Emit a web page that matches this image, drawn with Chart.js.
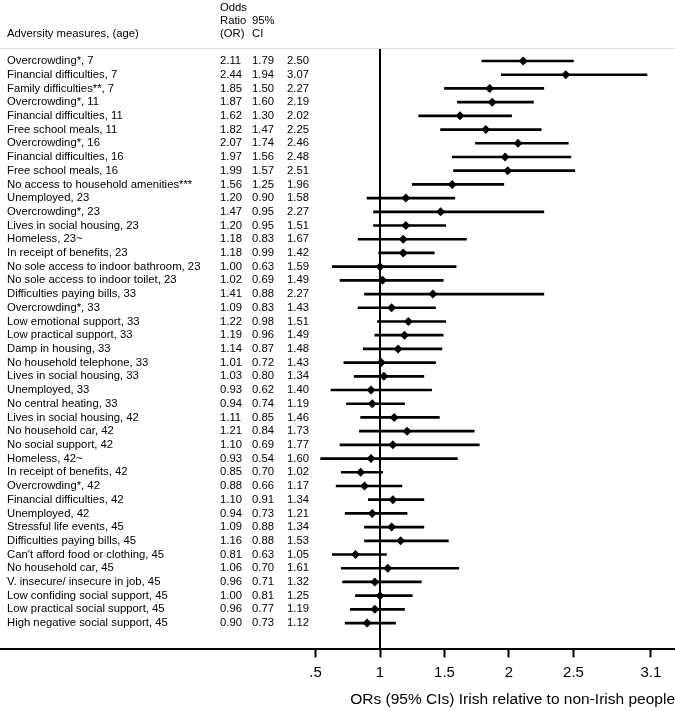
<!DOCTYPE html>
<html>
<head>
<meta charset="utf-8">
<script src="https://cdn.jsdelivr.net/npm/chart.js@4/dist/chart.umd.min.js"></script>
<style>
    body { margin: 0; background: #fff; }
    canvas { display: block; }
</style>
</head>
<body>
<canvas id="forest" width="675" height="711"></canvas>
<script>
// Rows of the forest plot, top to bottom
const labels = [
    "Overcrowding*, 7", "Financial difficulties, 7", "Family difficulties**, 7",
    "Overcrowding*, 11", "Financial difficulties, 11", "Free school meals, 11",
    "Overcrowding*, 16", "Financial difficulties, 16", "Free school meals, 16",
    "No access to household amenities***", "Unemployed, 23", "Overcrowding*, 23",
    "Lives in social housing, 23", "Homeless, 23~", "In receipt of benefits, 23",
    "No sole access to indoor bathroom, 23", "No sole access to indoor toilet, 23",
    "Difficulties paying bills, 33", "Overcrowding*, 33", "Low emotional support, 33",
    "Low practical support, 33", "Damp in housing, 33", "No household telephone, 33",
    "Lives in social housing, 33", "Unemployed, 33", "No central heating, 33",
    "Lives in social housing, 42", "No household car, 42", "No social support, 42",
    "Homeless, 42~", "In receipt of benefits, 42", "Overcrowding*, 42",
    "Financial difficulties, 42", "Unemployed, 42", "Stressful life events, 45",
    "Difficulties paying bills, 45", "Can't afford food or clothing, 45",
    "No household car, 45", "V. insecure/ insecure in job, 45",
    "Low confiding social support, 45", "Low practical social support, 45",
    "High negative social support, 45"
];
const oddsRatio = [2.11, 2.44, 1.85, 1.87, 1.62, 1.82, 2.07, 1.97, 1.99, 1.56, 1.20, 1.47, 1.20, 1.18,
    1.18, 1.00, 1.02, 1.41, 1.09, 1.22, 1.19, 1.14, 1.01, 1.03, 0.93, 0.94, 1.11, 1.21, 1.10, 0.93,
    0.85, 0.88, 1.10, 0.94, 1.09, 1.16, 0.81, 1.06, 0.96, 1.00, 0.96, 0.90];
const ciLower = [1.79, 1.94, 1.50, 1.60, 1.30, 1.47, 1.74, 1.56, 1.57, 1.25, 0.90, 0.95, 0.95, 0.83,
    0.99, 0.63, 0.69, 0.88, 0.83, 0.98, 0.96, 0.87, 0.72, 0.80, 0.62, 0.74, 0.85, 0.84, 0.69, 0.54,
    0.70, 0.66, 0.91, 0.73, 0.88, 0.88, 0.63, 0.70, 0.71, 0.81, 0.77, 0.73];
const ciUpper = [2.50, 3.07, 2.27, 2.19, 2.02, 2.25, 2.46, 2.48, 2.51, 1.96, 1.58, 2.27, 1.51, 1.67,
    1.42, 1.59, 1.49, 2.27, 1.43, 1.51, 1.49, 1.48, 1.43, 1.34, 1.40, 1.19, 1.46, 1.73, 1.77, 1.60,
    1.02, 1.17, 1.34, 1.21, 1.34, 1.53, 1.05, 1.61, 1.32, 1.25, 1.19, 1.12];
const xTicks = [0.5, 1, 1.5, 2, 2.5, 3.1];
const axisTitle = "ORs (95% CIs) Irish relative to non-Irish people";

const FONT = '"Liberation Sans", Arial, Helvetica, sans-serif';

// table text + reference line at OR = 1
const tablePlugin = {
    id: 'table',
    beforeDatasetsDraw(chart) {
        const ctx = chart.ctx;
        const x = chart.scales.x;
        const area = chart.chartArea;
        const xOne = x.getPixelForValue(1);
        ctx.save();
        ctx.strokeStyle = '#000';
        ctx.lineWidth = 2;
        ctx.beginPath();
        ctx.moveTo(xOne, area.top);
        ctx.lineTo(xOne, area.bottom);
        ctx.stroke();
        ctx.restore();
    },
    afterDraw(chart) {
        const ctx = chart.ctx;
        const y = chart.scales.y;
        const area = chart.chartArea;
        ctx.save();
        // header separator
        ctx.strokeStyle = '#dcdcdc';
        ctx.lineWidth = 1;
        ctx.beginPath();
        ctx.moveTo(0, area.top - 0.5);
        ctx.lineTo(chart.width, area.top - 0.5);
        ctx.stroke();

        ctx.fillStyle = '#000';
        ctx.font = '11.3px ' + FONT;
        ctx.textBaseline = 'middle';
        ctx.textAlign = 'left';
        ctx.fillText('Odds', 220, 8);
        ctx.fillText('Ratio', 220, 21);
        ctx.fillText('(OR)', 220, 34);
        ctx.fillText('95%', 252, 21);
        ctx.fillText('CI', 252, 34);
        ctx.fillText('Adversity measures, (age)', 7, 34);

        labels.forEach((lab, i) => {
            const py = y.getPixelForValue(i);
            ctx.fillText(lab, 7, py);
            ctx.fillText(oddsRatio[i].toFixed(2), 220, py);
            ctx.fillText(ciLower[i].toFixed(2), 252, py);
            ctx.fillText(ciUpper[i].toFixed(2), 287, py);
        });
        ctx.restore();
    }
};

new Chart(document.getElementById('forest'), {
    type: 'bar',
    data: {
        datasets: [{
            type: 'scatter',
            data: oddsRatio.map((v, i) => ({ x: v, y: i })),
            pointStyle: 'rectRot',
            pointRadius: 4.5,
            backgroundColor: '#000',
            borderWidth: 0,
            order: 0
        }, {
            type: 'bar',
            indexAxis: 'y',
            data: ciLower.map((lo, i) => ({ x: [lo, ciUpper[i]], y: i })),
            backgroundColor: '#000',
            barThickness: 2,
            borderWidth: 0,
            order: 1
        }]
    },
    options: {
        responsive: false,
        animation: false,
        layout: { autoPadding: false, padding: { top: 49, left: 0, right: 0, bottom: 2 } },
        plugins: {
            legend: { display: false },
            tooltip: { enabled: false }
        },
        scales: {
            x: {
                type: 'linear',
                offset: false,
                min: -1.946,
                max: 3.287,
                afterBuildTicks: (scale) => {
                    scale.ticks = xTicks.map(v => ({ value: v }));
                },
                ticks: {
                    color: '#000',
                    font: { family: FONT, size: 15 },
                    padding: 6,
                    maxRotation: 0,
                    autoSkip: false,
                    callback: (v) => v === 0.5 ? '.5' : String(v)
                },
                grid: {
                    offset: false,
                    drawOnChartArea: false,
                    drawTicks: true,
                    tickLength: 8,
                    tickWidth: 2,
                    tickColor: '#000'
                },
                border: { display: true, color: '#000', width: 2 },
                title: {
                    display: true,
                    text: axisTitle,
                    align: 'end',
                    color: '#000',
                    font: { family: FONT, size: 15.5 },
                    padding: { top: 3, bottom: 0 }
                }
            },
            y: {
                type: 'linear',
                display: false,
                offset: false,
                reverse: true,
                min: -0.876,
                max: 42.92
            }
        }
    },
    plugins: [tablePlugin]
});
</script>
</body>
</html>
